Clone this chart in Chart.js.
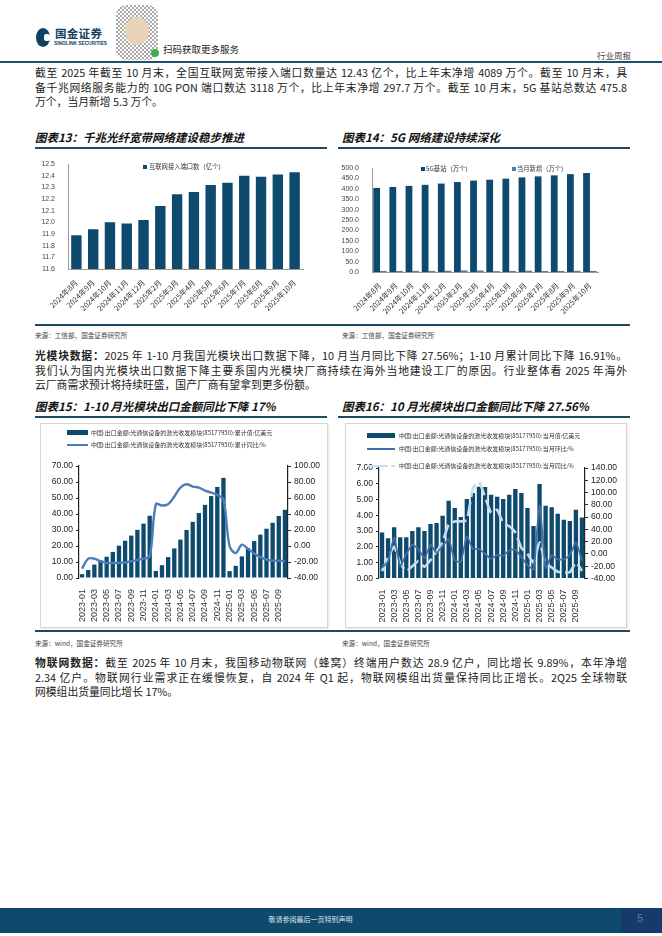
<!DOCTYPE html>
<html>
<head>
<meta charset="utf-8">
<script src="https://cdn.jsdelivr.net/npm/chart.js@4.4.1/dist/chart.umd.min.js"></script>
<style>
  body { margin: 0; width: 662px; height: 936px; position: relative; background: #fff; overflow: hidden;
         font-family: "Noto Sans CJK SC", "Noto Sans", sans-serif; color: #222; }
  .abs { position: absolute; }
  .line { position: absolute; left: 35px; width: 592px; font-size: 10.8px; height: 14.5px; line-height: 14.5px;
          white-space: nowrap; }
  .just { text-align: justify; text-align-last: justify; }
  .title { position: absolute; font-size: 11.5px; font-weight: 700; font-style: italic; white-space: nowrap; color: #111; }
  .rule { position: absolute; height: 1.5px; background: #1f4a63; }
  .src { position: absolute; font-size: 6.6px; color: #444; white-space: nowrap; }
  .frame { position: absolute; border: 1px solid #d6d6d6; box-shadow: 1px 1px 2px #e6e6e6; }
  .leg { position: absolute; font-size: 6px; color: #333; white-space: nowrap; line-height: 8px; }
  .sw { position: absolute; }
  canvas { position: absolute; }
</style>
</head>
<body>
<!-- header -->
<div class="abs" style="left:36px;top:28px;width:14px;height:19px;border-radius:50%;background:#0f3f63;"></div>
<div class="abs" style="left:44px;top:34px;width:6px;height:7px;background:#fff;border-radius:2px;"></div>
<div class="abs" style="left:55px;top:25px;font-size:11.5px;font-weight:700;color:#14405f;letter-spacing:0.3px;">国金证券</div>
<div class="abs" style="left:54px;top:41px;font-size:4.8px;font-weight:700;color:#14405f;font-family:'Liberation Sans';">SINOLINK SECURITIES</div>
<div class="abs" style="left:116px;top:5px;width:42px;height:55px;border-radius:10px;
     background: repeating-conic-gradient(#555 0 25%, #fff 0 50%) 0 0/4px 4px; opacity:0.5;"></div>
<div class="abs" style="left:125px;top:17px;width:24px;height:28px;border-radius:50%;background:#e8d3b8;"></div>
<div class="abs" style="left:151px;top:49px;width:8px;height:8px;border-radius:50%;background:#3bb34a;"></div>
<div class="abs" style="left:163px;top:42px;font-size:9.5px;color:#222;">扫码获取更多服务</div>
<div class="abs" style="left:597px;top:49px;font-size:8.5px;color:#444;">行业周报</div>
<div class="abs" style="left:0;top:61px;width:662px;height:1.5px;background:#1f4e6e;"></div>

<!-- paragraph 1 -->
<div class="line just" style="top:65px;">截至 2025 年截至 10 月末，全国互联网宽带接入端口数量达 12.43 亿个，比上年末净增 4089 万个。截至 10 月末，具</div>
<div class="line just" style="top:79.5px;">备千兆网络服务能力的 10G PON 端口数达 3118 万个，比上年末净增 297.7 万个。截至 10 月末，5G 基站总数达 475.8</div>
<div class="line" style="top:94px;">万个，当月新增 5.3 万个。</div>

<!-- chart 13 / 14 titles -->
<div class="title" style="left:35px;top:129px;">图表13：千兆光纤宽带网络建设稳步推进</div>
<div class="title" style="left:342px;top:129px;">图表14：5G 网络建设持续深化</div>
<div class="rule" style="left:35px;top:147px;width:292px;"></div>
<div class="rule" style="left:338px;top:147px;width:292px;"></div>

<canvas id="c13" width="291" height="172" style="left:35px;top:150px;"></canvas>
<canvas id="c14" width="291" height="172" style="left:339px;top:150px;"></canvas>

<!-- legends 13/14 -->
<div class="sw" style="left:143px;top:165px;width:4px;height:4px;background:#0e4a6e;"></div>
<div class="leg" style="left:149px;top:163px;font-size:6.3px;">互联网接入端口数（亿个）</div>
<div class="sw" style="left:421px;top:167px;width:4px;height:4px;background:#0e4a6e;"></div>
<div class="leg" style="left:426px;top:165px;font-size:6.3px;">5G基站（万个）</div>
<div class="sw" style="left:512px;top:167px;width:4px;height:4px;background:#4e7ca6;"></div>
<div class="leg" style="left:517px;top:165px;font-size:6.3px;">当月新增（万个）</div>

<div class="rule" style="left:35px;top:324px;width:595px;"></div>
<div class="src" style="left:35px;top:330px;">来源：工信部，国金证券研究所</div>
<div class="src" style="left:342px;top:330px;">来源：工信部，国金证券研究所</div>

<!-- paragraph 2 -->
<div class="line just" style="top:348px;"><b>光模块数据：</b>2025 年 1-10 月我国光模块出口数据下降，10 月当月同比下降 27.56%；1-10 月累计同比下降 16.91%。</div>
<div class="line just" style="top:362.5px;">我们认为国内光模块出口数据下降主要系国内光模块厂商持续在海外当地建设工厂的原因。行业整体看 2025 年海外</div>
<div class="line" style="top:377px;">云厂商需求预计将持续旺盛，国产厂商有望拿到更多份额。</div>

<!-- chart 15 / 16 titles -->
<div class="title" style="left:35px;top:398px;">图表15：1-10 月光模块出口金额同比下降 17%</div>
<div class="title" style="left:342px;top:398px;">图表16：10 月光模块出口金额同比下降 27.56%</div>
<div class="rule" style="left:35px;top:416px;width:292px;"></div>
<div class="rule" style="left:338px;top:416px;width:292px;"></div>

<div class="frame" style="left:40px;top:423px;width:286px;height:203px;"></div>
<div class="frame" style="left:345px;top:423px;width:280px;height:203px;"></div>

<canvas id="c15" width="286" height="170" style="left:41px;top:455px;"></canvas>
<canvas id="c16" width="279" height="167" style="left:346px;top:458px;"></canvas>

<!-- legends 15 -->
<div class="sw" style="left:67px;top:430px;width:21px;height:5px;background:#0e4a6e;"></div>
<div class="leg" style="left:91px;top:428.5px;">中国:出口金额:光通信设备的激光收发模块(85177950):累计值:亿美元</div>
<div class="sw" style="left:67px;top:444px;width:21px;height:2px;background:#4a7ebb;"></div>
<div class="leg" style="left:91px;top:441px;">中国:出口金额:光通信设备的激光收发模块(85177950):累计同比:%</div>
<!-- legends 16 -->
<div class="sw" style="left:367px;top:433px;width:28px;height:5px;background:#0e4a6e;"></div>
<div class="leg" style="left:399px;top:431.5px;">中国:出口金额:光通信设备的激光收发模块(85177950):当月值:亿美元</div>
<div class="sw" style="left:367px;top:448px;width:28px;height:2px;background:#3f6fa6;"></div>
<div class="leg" style="left:399px;top:445px;">中国:出口金额:光通信设备的激光收发模块(85177950):当月环比:%</div>
<div class="sw" style="left:367px;top:465px;width:21px;height:2px;background:#c9dcef;"></div>
<div class="sw" style="left:391px;top:465px;width:4px;height:2px;background:#c9dcef;"></div>
<div class="leg" style="left:399px;top:462px;">中国:出口金额:光通信设备的激光收发模块(85177950):当月同比:%</div>

<div class="rule" style="left:35px;top:630px;width:595px;"></div>
<div class="src" style="left:35px;top:638px;">来源：wind，国金证券研究所</div>
<div class="src" style="left:342px;top:638px;">来源：wind，国金证券研究所</div>

<!-- paragraph 3 -->
<div class="line just" style="top:655px;"><b>物联网数据：</b>截至 2025 年 10 月末，我国移动物联网（蜂窝）终端用户数达 28.9 亿户，同比增长 9.89%，本年净增</div>
<div class="line just" style="top:669.5px;">2.34 亿户。物联网行业需求正在缓慢恢复，自 2024 年 Q1 起，物联网模组出货量保持同比正增长。2Q25 全球物联</div>
<div class="line" style="top:684px;">网模组出货量同比增长 17%。</div>

<!-- footer -->
<div class="abs" style="left:0;top:908px;width:621px;height:25px;background:#0f4a6d;"></div>
<div class="abs" style="left:621px;top:908px;width:41px;height:25px;background:#163a6b;"></div>
<div class="abs" style="left:0;top:914px;width:621px;text-align:center;font-size:7px;color:#d7e2ea;">敬请参阅最后一页特别声明</div>
<div class="abs" style="left:637px;top:912px;font-size:11px;color:#5c7fb0;font-family:'Liberation Sans';">5</div>

<script>
// months for charts 13 and 14
const months = ['2024年8月', '2024年9月', '2024年10月', '2024年11月', '2024年12月', '2025年2月', '2025年3月',
                '2025年4月', '2025年5月', '2025年6月', '2025年7月', '2025年8月', '2025年9月', '2025年10月'];
// broadband access ports, 100 million
const broadbandPorts = [11.89, 11.94, 12.00, 11.99, 12.02, 12.14, 12.24, 12.26, 12.32, 12.34, 12.40, 12.39, 12.41, 12.43];
// 5G base stations, 10k
const baseStations = [404.2, 408.9, 414.1, 419.1, 425.1, 432.5, 439.5, 443.7, 448.6, 454.9, 459.8, 464.6, 470.5, 475.8];
const baseStationsNew = [4.9, 4.7, 5.2, 5.0, 6.0, 7.4, 7.0, 4.2, 4.9, 6.3, 4.9, 4.8, 5.9, 5.3];

// export months for charts 15 and 16
const exportMonths = ['2023-01', '2023-02', '2023-03', '2023-04', '2023-05', '2023-06', '2023-07', '2023-08', '2023-09',
                      '2023-10', '2023-11', '2023-12', '2024-01', '2024-02', '2024-03', '2024-04', '2024-05', '2024-06',
                      '2024-07', '2024-08', '2024-09', '2024-10', '2024-11', '2024-12', '2025-01', '2025-02', '2025-03',
                      '2025-04', '2025-05', '2025-06', '2025-07', '2025-08', '2025-09', '2025-10'];
// cumulative export value (100M USD) and cumulative yoy (%)
const exportCum = [2.4, 5.0, 8.4, 11.0, 13.3, 16.3, 20.2, 23.3, 26.5, 30.1, 34.0, 38.9,
                   4.4, 8.0, 13.1, 18.5, 24.0, 30.0, 35.1, 40.6, 45.7, 51.2, 56.9, 62.6,
                   4.3, 7.6, 13.5, 18.6, 23.1, 27.1, 30.8, 34.5, 38.8, 42.6];
const exportCumYoy = [-28.2, -15.8, -15.8, -19.0, -21.2, -21.2, -21.0, -20.7, -19.0, -17.4, -15.8, -12.9,
                      52.3, 50.6, 52.3, 61.8, 73.0, 77.2, 74.3, 73.0, 69.3, 66.8, 63.9, 57.7,
                      -0.4, -8.7, 1.7, -3.7, -9.5, -14.0, -17.0, -18.3, -18.3, -19.0];
// monthly export value (100M USD), mom (%), yoy (%)
const exportMonthly = [2.91, 2.55, 3.25, 2.61, 2.61, 3.01, 3.25, 3.01, 3.46, 3.52, 3.97, 4.93,
                       4.46, 3.89, 5.03, 5.41, 5.82, 5.80, 5.31, 5.18, 5.03, 5.31, 5.67, 5.41,
                       4.46, 3.33, 5.99, 4.61, 4.52, 4.10, 3.72, 3.65, 4.35, 3.86];
const exportMom = [-22, -12, 27, -20, 0, 15, 8, -7, 15, 2, 13, 24,
                   -10, -13, 29, 8, 8, 0, -8, -2, -3, 6, 7, -5,
                   -18, -25, 80, -23, -2, -9, -9, -2, 19, -11];
const exportYoy = [-28, -6, 12, -15, -28, -20, -12, -21, -10, 4, 20, 48,
                   53, 53, 55, 107, 118, 93, 67, 72, 50, 45, 35, 10,
                   0, -14, 19, -15, -22, -29, -30, -30, -14, -27.56];

const NAVY = '#0e4a6e';
const TICK_FONT = 'Liberation Sans';

Chart.defaults.animation = false;
Chart.defaults.responsive = false;
Chart.defaults.plugins.legend.display = false;
Chart.defaults.plugins.tooltip.enabled = false;

// small month charts (13, 14)
function monthAxis(height) {
    return {
        grid: { display: false },
        border: { color: '#9a9a9a' },
        ticks: { font: { size: 7.5, family: 'Noto Sans CJK SC' }, color: '#333', minRotation: 45, maxRotation: 45,
                 autoSkip: false, padding: 1 },
        afterFit: s => { s.height = height; }
    };
}

new Chart(document.getElementById('c13'), {
    type: 'bar',
    data: {
        labels: months,
        datasets: [{ label: '互联网接入端口数（亿个）', data: broadbandPorts, backgroundColor: NAVY,
                     barPercentage: 0.62, categoryPercentage: 1 }]
    },
    options: {
        layout: { padding: { left: 0, right: 23, top: 14, bottom: 0 } },
        scales: {
            x: monthAxis(53),
            y: {
                min: 11.6, max: 12.5,
                grid: { display: false },
                border: { color: '#9a9a9a' },
                ticks: { stepSize: 0.1, autoSkip: false, callback: v => v.toFixed(1), font: { size: 7, family: TICK_FONT }, color: '#444', padding: 5 },
                afterFit: s => { s.width = 33; }
            }
        }
    }
});

new Chart(document.getElementById('c14'), {
    type: 'bar',
    data: {
        labels: months,
        datasets: [
            { label: '5G基站（万个）', data: baseStations, backgroundColor: NAVY, barPercentage: 1, categoryPercentage: 0.84 },
            { label: '当月新增（万个）', data: baseStationsNew, backgroundColor: '#4e7ca6', barPercentage: 1, categoryPercentage: 0.84 }
        ]
    },
    options: {
        layout: { padding: { left: 0, right: 32, top: 18, bottom: 0 } },
        scales: {
            x: monthAxis(50),
            y: {
                min: 0, max: 500,
                grid: { display: false },
                border: { color: '#9a9a9a' },
                ticks: { stepSize: 50, autoSkip: false, callback: v => v.toFixed(1), font: { size: 7, family: TICK_FONT }, color: '#444', padding: 5 },
                afterFit: s => { s.width = 33; }
            }
        }
    }
});

// export charts (15, 16)
function exportX(height) {
    return {
        grid: { display: false },
        border: { display: false },
        ticks: { font: { size: 9, family: TICK_FONT }, color: '#333', minRotation: 90, maxRotation: 90, autoSkip: false,
                 padding: 3, callback: function (v, i) { return i % 2 === 0 ? this.getLabelForValue(v) : ''; } },
        afterFit: s => { s.height = height; }
    };
}
function valueAxis(position, min, max, step, width) {
    return {
        position: position, min: min, max: max,
        grid: { display: true, drawOnChartArea: false, tickLength: 3, color: '#222' },
        border: { color: '#222', width: 1.2 },
        ticks: { stepSize: step, autoSkip: false, callback: v => v.toFixed(2), font: { size: 8.5, family: TICK_FONT },
                 color: '#222', padding: 3 },
        afterFit: s => { s.width = width; }
    };
}

new Chart(document.getElementById('c15'), {
    type: 'bar',
    data: {
        labels: exportMonths,
        datasets: [
            { type: 'line', label: '累计同比', data: exportCumYoy, yAxisID: 'y1', borderColor: '#4a7ebb', borderWidth: 2.4,
              pointRadius: 0, tension: 0.35, order: 0 },
            { label: '累计值', data: exportCum, yAxisID: 'y', backgroundColor: NAVY, barPercentage: 0.7,
              categoryPercentage: 1, order: 1 }
        ]
    },
    options: {
        layout: { padding: { left: 0, right: 0, top: 11, bottom: 0 } },
        scales: {
            x: exportX(47),
            y: valueAxis('left', 0, 70, 10, 38),
            y1: valueAxis('right', -40, 100, 20, 39)
        }
    }
});

new Chart(document.getElementById('c16'), {
    type: 'bar',
    data: {
        labels: exportMonths,
        datasets: [
            { type: 'line', label: '当月环比', data: exportMom, yAxisID: 'y1', borderColor: '#3f6fa6', borderWidth: 1.8,
              pointRadius: 0, tension: 0.15, order: 0 },
            { type: 'line', label: '当月同比', data: exportYoy, yAxisID: 'y1', borderColor: '#c9dcef', borderWidth: 2.6,
              borderDash: [14, 5], pointRadius: 0, tension: 0.15, order: 1 },
            { label: '当月值', data: exportMonthly, yAxisID: 'y', backgroundColor: NAVY, barPercentage: 0.72,
              categoryPercentage: 1, order: 2 }
        ]
    },
    options: {
        layout: { padding: { left: 0, right: 0, top: 10, bottom: 0 } },
        scales: {
            x: exportX(46.5),
            y: valueAxis('left', 0, 7, 1, 33),
            y1: valueAxis('right', -40, 140, 20, 40)
        }
    }
});
</script>
</body>
</html>
